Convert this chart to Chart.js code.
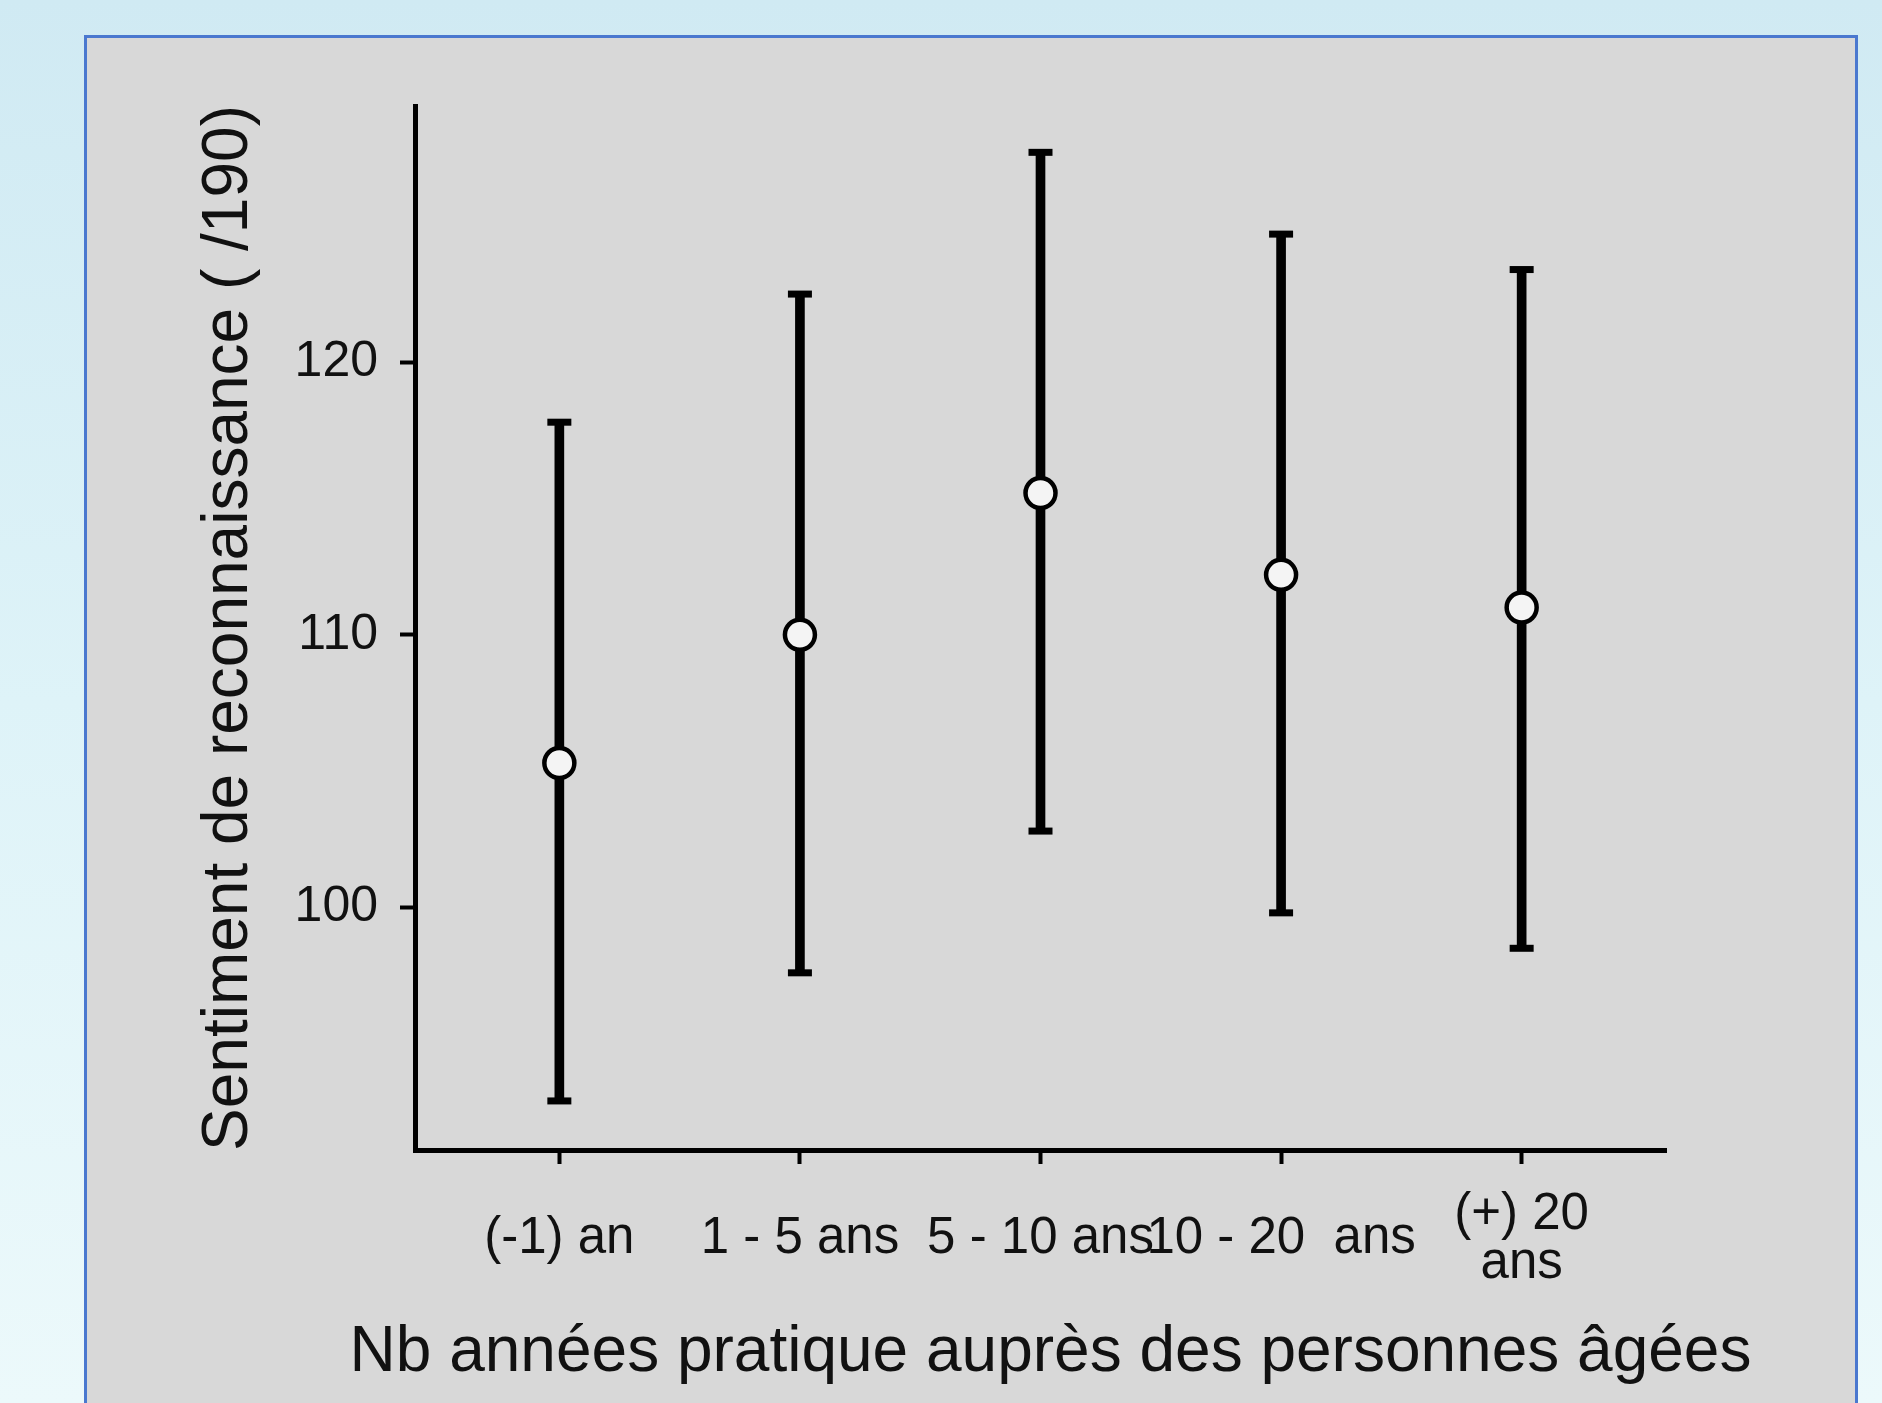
<!DOCTYPE html>
<html>
<head>
<meta charset="utf-8">
<script src="https://cdn.jsdelivr.net/npm/chart.js@4.4.1/dist/chart.umd.min.js"></script>
<style>
  html, body { margin: 0; padding: 0; }
  body {
    width: 1882px; height: 1403px; overflow: hidden; position: relative;
    background: linear-gradient(180deg, #d0eaf3 0%, #def3f8 50%, #ecf9fb 100%);
  }
  .panel {
    position: absolute; left: 84px; top: 35px; width: 1768px; height: 1400px;
    background: #d8d8d8; border: 3px solid #4a78cf;
  }
  .chart-container { position: absolute; left: 0; top: 0; width: 1882px; height: 1403px; }
</style>
</head>
<body>
<div class="panel"></div>
<div class="chart-container"><canvas id="chart"></canvas></div>
<script>
const categories = ['(-1) an', '1 - 5 ans', '5 - 10 ans', '10 - 20  ans', ['(+) 20', 'ans']];
const means = [105.3, 110.0, 115.2, 112.2, 111.0];
const lower = [92.9, 97.6, 102.8, 99.8, 98.5];
const upper = [117.8, 122.5, 127.7, 124.7, 123.4];
const yTicks = [100, 110, 120];
const xTitle = 'Nb années pratique auprès des personnes âgées';

const font = 'Liberation Sans, Arial, sans-serif';
const positions = categories.map((c, i) => i + 1);

// axis title drawn by hand so it is not squeezed to the axis width
const xTitlePlugin = {
  id: 'xTitle',
  afterDraw(chart) {
    const { ctx, chartArea } = chart;
    ctx.save();
    ctx.font = '64px ' + font;
    ctx.fillStyle = '#111111';
    ctx.textAlign = 'center';
    ctx.textBaseline = 'middle';
    ctx.fillText(xTitle, (chartArea.left + chartArea.right) / 2 + 10, chartArea.bottom + 203);
    ctx.restore();
  }
};

const ctx = document.getElementById('chart').getContext('2d');
const myChart = new Chart(ctx, {
  type: 'bar',
  data: {
    datasets: [
      {
        type: 'scatter',
        data: positions.map((x, i) => ({ x: x, y: means[i] })),
        pointStyle: 'circle',
        pointRadius: 15,
        backgroundColor: '#f4f4f4',
        borderColor: '#000000',
        borderWidth: 4.5,
        order: 0
      },
      {
        type: 'scatter',
        data: positions.map((x, i) => ({ x: x, y: upper[i] })),
        pointStyle: 'line',
        pointRadius: 12,
        borderColor: '#000000',
        borderWidth: 7,
        order: 1
      },
      {
        type: 'scatter',
        data: positions.map((x, i) => ({ x: x, y: lower[i] })),
        pointStyle: 'line',
        pointRadius: 12,
        borderColor: '#000000',
        borderWidth: 7,
        order: 1
      },
      {
        data: positions.map((x, i) => ({ x: x, y: [lower[i], upper[i]] })),
        backgroundColor: '#000000',
        barThickness: 9,
        order: 2
      }
    ]
  },
  options: {
    responsive: true,
    maintainAspectRatio: false,
    animation: false,
    devicePixelRatio: 1,
    layout: { padding: { left: 191, top: 106, right: 216, bottom: 15 } },
    plugins: { legend: { display: false }, tooltip: { enabled: false } },
    scales: {
      x: {
        type: 'linear',
        min: 0.4,
        max: 5.6,
        offset: false,
        afterBuildTicks: (scale) => { scale.ticks = positions.map(v => ({ value: v })); },
        afterFit: (scale) => { scale.height = 238; },
        border: { color: '#000000', width: 5 },
        grid: { offset: false, drawOnChartArea: false, drawTicks: true, tickLength: 14, tickWidth: 4, tickColor: '#000000' },
        ticks: {
          autoSkip: false,
          maxRotation: 0,
          crossAlign: 'center',
          padding: 51,
          color: '#111111',
          font: { family: font, size: 51, lineHeight: 0.95 },
          callback: (value) => categories[Math.round(value) - 1]
        }
      },
      y: {
        min: 91.1,
        max: 129.4,
        afterBuildTicks: (scale) => { scale.ticks = yTicks.map(v => ({ value: v })); },
        afterFit: (scale) => { scale.width = 224; },
        border: { color: '#000000', width: 5 },
        grid: { drawOnChartArea: false, drawTicks: true, tickLength: 15, tickWidth: 4, tickColor: '#000000' },
        ticks: {
          padding: 22,
          color: '#111111',
          font: { family: font, size: 50 }
        },
        title: {
          display: true,
          text: 'Sentiment de reconnaissance ( /190)',
          color: '#111111',
          padding: 0,
          font: { family: font, size: 64, lineHeight: 1.2 }
        }
      }
    }
  },
  plugins: [xTitlePlugin]
});
</script>
</body>
</html>
